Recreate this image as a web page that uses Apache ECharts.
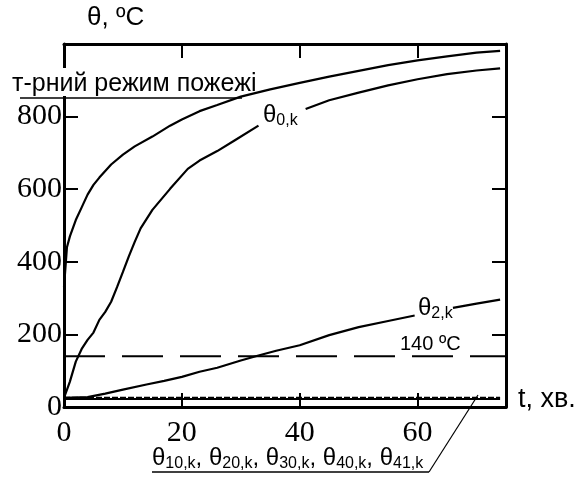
<!DOCTYPE html>
<html>
<head>
<meta charset="utf-8">
<script src="https://cdn.jsdelivr.net/npm/echarts@6/dist/echarts.min.js"></script>
<style>
  html, body { margin: 0; padding: 0; background: #fff; }
  #myEcharts { width: 581px; height: 478px; }
</style>
</head>
<body>
<div id="myEcharts"></div>
<script>
// t-рний режим пожежі (час, хв. / температура, °C)
var fireTime = [0, 0.5, 1, 2, 3, 4, 5, 6, 8, 10, 12, 15, 18, 20, 23, 26, 30, 35, 40, 45, 50, 55, 60, 65, 70, 74];
var fireTemp = [330, 440, 470, 515, 550, 585, 612, 632, 668, 695, 718, 745, 775, 792, 815, 832, 855, 875, 893, 910, 926, 942, 955, 966, 976, 981];

// θ0,k (розрив під підписом)
var theta0Time = [0, 1, 2, 3, 4, 5, 6, 7, 8, 9, 10, 11, 12, 13, 15, 18, 21, 23, 26, 29, 33, 37, 41, 45, 50, 55, 60, 65, 70, 74];
var theta0Temp = [25, 70, 125, 160, 185, 205, 240, 262, 290, 330, 372, 415, 455, 492, 543, 601, 656, 679, 705, 735, 775, null, 821, 845, 866, 886, 903, 917, 927, 933];

// θ2,k
var theta2Time = [0, 4, 7, 10, 14, 17, 20, 23, 26, 30, 33, 36, 40, 45, 50, 55, 59.5, 63, 66, 70, 74];
var theta2Temp = [25, 27, 37, 48, 62, 72, 83, 97, 108, 128, 142, 155, 170, 198, 220, 237, 252, null, 273, 285, 296];

// θ10,k, θ20,k, θ30,k, θ40,k, θ41,k
var innerTime = [0, 74];
var innerTempA = [22, 22];
var innerTempB = [26, 26];

// критична температура 140 °C
var critTime = [0, 75];
var critTemp = [140, 140];

var xMin = 0, xMax = 75, xStep = 20;
var yMin = 0, yMax = 1000, yStep = 200;

function pairs(xs, ys) {
  return xs.map(function (x, i) { return [x, ys[i] === null ? '-' : ys[i]]; });
}

var chartDom = document.getElementById('myEcharts');
var myChart = echarts.init(chartDom);

var black = '#000';
var serif = 'Liberation Serif';
var sans = 'Liberation Sans';

function lineSeries(data, width, type) {
  return {
    type: 'line',
    data: data,
    showSymbol: false,
    symbol: 'none',
    connectNulls: false,
    lineStyle: { color: black, width: width, type: type || 'solid' },
    silent: true
  };
}

function xAx(pos, labels) {
  return {
    type: 'value', position: pos, min: xMin, max: xMax, interval: xStep,
    axisLine: { show: true, onZero: false, lineStyle: { color: black, width: 3 } },
    axisTick: { show: true, inside: true, length: 14, lineStyle: { color: black, width: 2 } },
    axisLabel: { show: labels, color: black, fontFamily: serif, fontSize: 30, margin: 11, showMaxLabel: false },
    splitLine: { show: false }
  };
}

function yAx(pos, labels) {
  return {
    type: 'value', position: pos, min: yMin, max: yMax, interval: yStep,
    axisLine: { show: true, onZero: false, lineStyle: { color: black, width: 3 } },
    axisTick: { show: true, inside: true, length: 14, lineStyle: { color: black, width: 2 } },
    axisLabel: { show: labels, color: black, fontFamily: serif, fontSize: 30, margin: 2, showMaxLabel: false },
    splitLine: { show: false }
  };
}

var thetaRich = {
  t: { fontFamily: sans, fontSize: 24, color: black },
  s: { fontFamily: sans, fontSize: 16, color: black, padding: [11, 0, 0, 0] }
};

var option = {
  animation: false,
  backgroundColor: '#fff',
  grid: { left: 64, right: 75, top: 44, bottom: 71, outerBoundsMode: 'none' },
  xAxis: [xAx('bottom', true), xAx('top', false)],
  yAxis: [yAx('left', true), yAx('right', false)],
  series: [
    lineSeries(pairs(critTime, critTemp), 2, [41, 17]),
    lineSeries(pairs(innerTime, innerTempA), 2),
    lineSeries(pairs(innerTime, innerTempB), 1.5, [6, 2]),
    lineSeries(pairs(fireTime, fireTemp), 2.2),
    lineSeries(pairs(theta0Time, theta0Temp), 2.2),
    lineSeries(pairs(theta2Time, theta2Temp), 2.2)
  ],
  graphic: [
    { type: 'text', left: 87, top: 5, z: 100,
      style: { text: 'θ, ºC', fontFamily: sans, fontSize: 26, fill: black } },
    // біла пляма, що перекриває вісь під підписом
    { type: 'rect', z: 90, shape: { x: 58, y: 68, width: 12, height: 28 }, style: { fill: '#fff' } },
    { type: 'text', left: 12, top: 72, z: 100,
      style: { text: 'т-рний режим пожежі', fontFamily: sans, fontSize: 25, fill: black } },
    { type: 'line', z: 100, shape: { x1: 20, y1: 98, x2: 242, y2: 98 }, style: { stroke: black, lineWidth: 1.5 } },
    { type: 'text', left: 518, top: 386, z: 100,
      style: { text: 't, хв.', fontFamily: sans, fontSize: 27, fill: black } },
    { type: 'text', left: 400, top: 334, z: 100,
      style: { text: '140 ºC', fontFamily: sans, fontSize: 20, fill: black } },
    { type: 'text', left: 263, top: 103, z: 100,
      style: { text: '{t|θ}{s|0,k}', rich: thetaRich } },
    { type: 'text', left: 418, top: 296, z: 100,
      style: { text: '{t|θ}{s|2,k}', rich: thetaRich } },
    { type: 'text', left: 152, top: 446, z: 100,
      style: { text: '{t|θ}{s|10,k}{t|, θ}{s|20,k}{t|, θ}{s|30,k}{t|, θ}{s|40,k}{t|, θ}{s|41,k}', rich: thetaRich } },
    { type: 'line', z: 100, shape: { x1: 152, y1: 472, x2: 429, y2: 472 }, style: { stroke: black, lineWidth: 1.5 } },
    { type: 'line', z: 100, shape: { x1: 429, y1: 472, x2: 478, y2: 395 }, style: { stroke: black, lineWidth: 1.2 } }
  ]
};

myChart.setOption(option);
</script>
</body>
</html>
